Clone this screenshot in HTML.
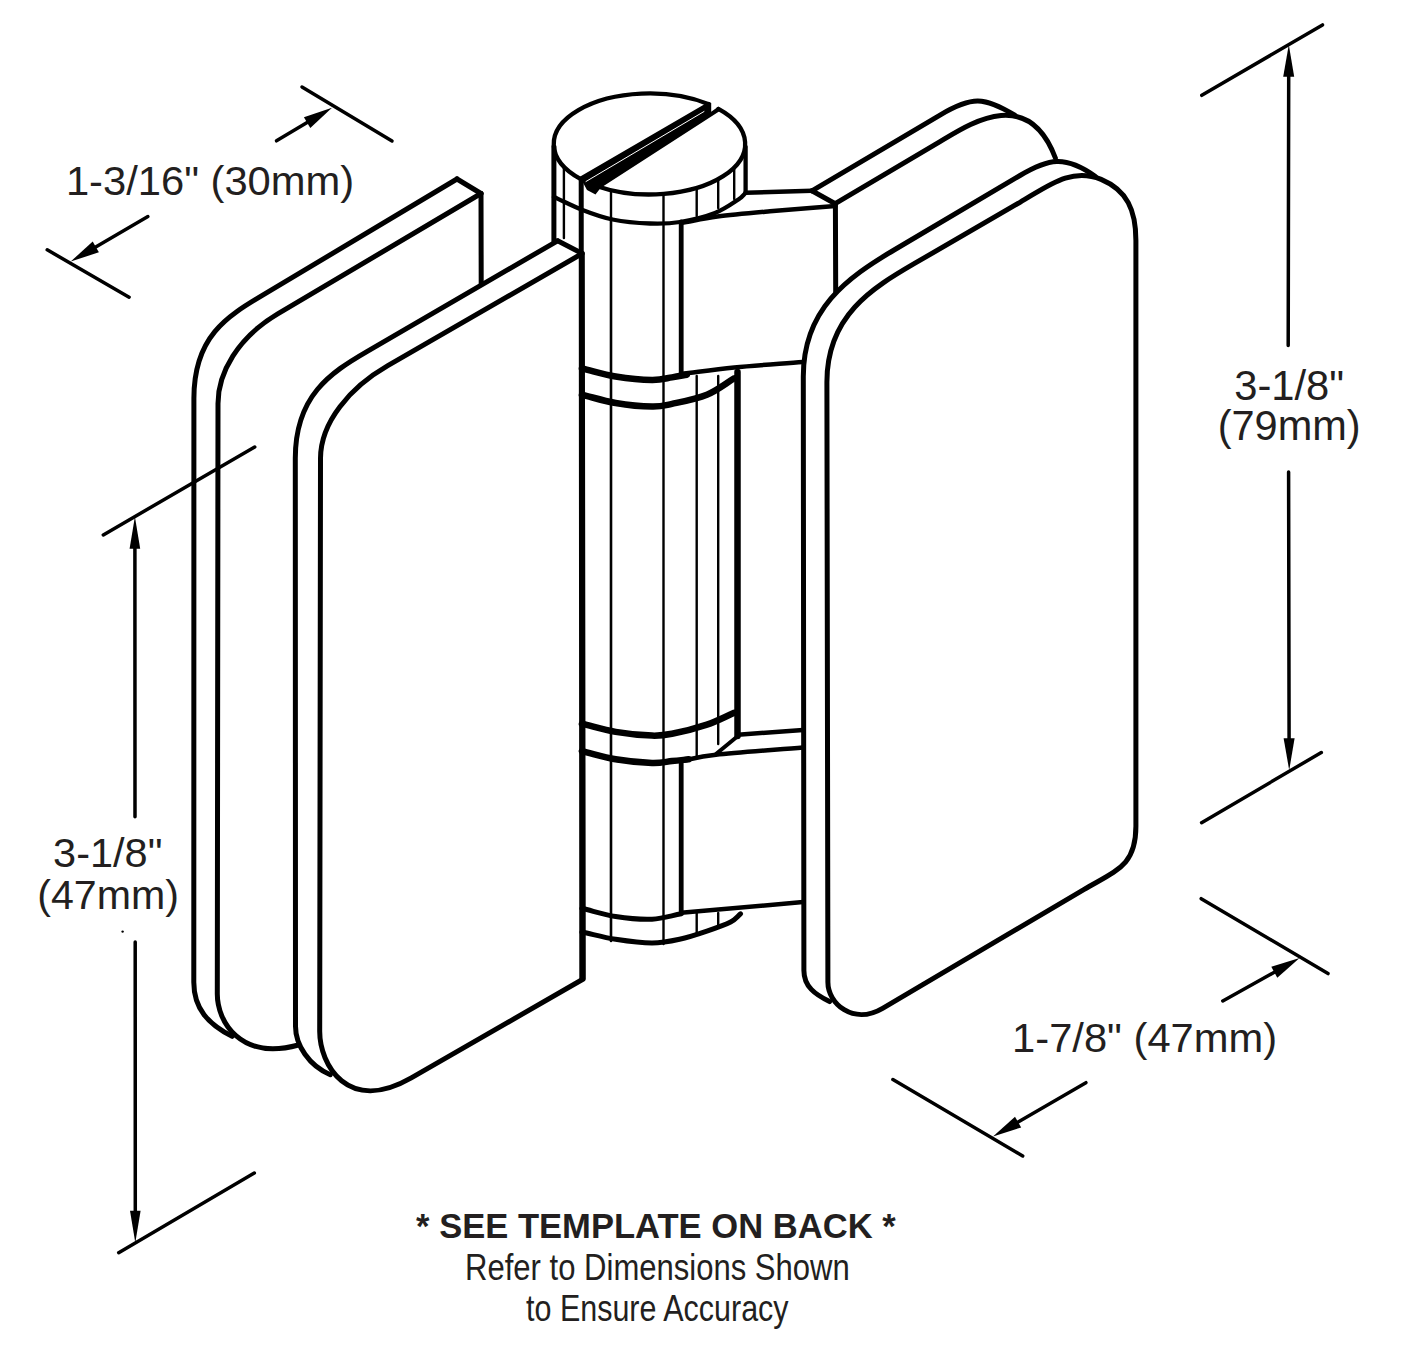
<!DOCTYPE html>
<html><head><meta charset="utf-8"><style>
html,body{margin:0;padding:0;background:#fff;}
svg{display:block;}
text{font-family:"Liberation Sans",sans-serif;fill:#231f20;}
</style></head><body>
<svg width="1425" height="1362" viewBox="0 0 1425 1362" stroke-linecap="round" stroke-linejoin="round">
<path d="M811.9,190.8 L940,115.1 C972.2,96.1 983.6,96.8 1014.8,115.1" fill="none" stroke="#000" stroke-width="5"/>
<path d="M835.2,203.7 L940,141.6 C966.7,125.8 1027.6,83.4 1055.4,158" fill="none" stroke="#000" stroke-width="5"/>
<path d="M835.4,203.7 L835.7,292" stroke="#000" stroke-width="5" fill="none"/>
<path d="M811.9,190.8 L835.3,203.7" stroke="#000" stroke-width="5" fill="none"/>
<path d="M553.9,146.8 L553.9,241" stroke="#000" stroke-width="5" fill="none"/>
<path d="M745.6,146.8 L745.6,192.7" stroke="#000" stroke-width="4.3" fill="none"/>
<path d="M553.9,197 C563.4,201.3 572.7,206.2 582.5,210 C592.3,213.8 601.2,217.2 612.5,219.5 C623.8,221.8 638.8,223.1 650,223.5 C661.2,223.9 669.2,223.8 680,222 C690.8,220.2 705.3,216.8 715,213 C724.7,209.2 733.3,202.8 738.4,199.5 C743.5,196.2 743.1,195.2 745.5,193" fill="none" stroke="#000" stroke-width="4.3"/>
<path d="M563.9,166.5 L563.9,238" stroke="#000" stroke-width="2.4" fill="none"/>
<path d="M611,190.2 L611,218" stroke="#000" stroke-width="2.4" fill="none"/>
<path d="M663.5,194 L663.5,223" stroke="#000" stroke-width="2.4" fill="none"/>
<path d="M696.7,188 L696.7,216" stroke="#000" stroke-width="2.4" fill="none"/>
<path d="M718.2,179.2 L718.2,208" stroke="#000" stroke-width="2.4" fill="none"/>
<path d="M734.2,167.6 L734.2,199" stroke="#000" stroke-width="2.4" fill="none"/>
<path d="M581.2,179.2 L581.8,979" stroke="#000" stroke-width="5" fill="none"/>
<path d="M580.8,179.1 A95.7,50.5 0 0 1 708.8,104.3" fill="none" stroke="#000" stroke-width="4.3"/>
<path d="M718.4,108.9 A95.7,50.5 0 0 1 597.1,186.2" fill="none" stroke="#000" stroke-width="4.3"/>
<path d="M579.8,176.8 L708.8,101.8 L711.2,103 L711.2,111.8 L718.5,106.6 L719.8,111 L600.5,188 L595.5,194.5 L587,190 Z" fill="#000" stroke="none"/>
<path d="M586,181.5 L704,111.5" stroke="#fff" stroke-width="1" fill="none"/>
<path d="M681.2,222 L681.2,374" stroke="#000" stroke-width="4.8" fill="none"/>
<path d="M681.2,223 C693.3,220.9 702.6,218.5 717.4,216.6 C732.2,214.7 750.3,213.1 770,211.3 C789.7,209.5 813.6,207.7 835.4,205.9" fill="none" stroke="#000" stroke-width="4.5"/>
<path d="M745.6,192.7 L811.9,190.8" stroke="#000" stroke-width="4.5" fill="none"/>
<path d="M611,218 L611,941" stroke="#000" stroke-width="2.6" fill="none"/>
<path d="M663.5,223 L663.5,944" stroke="#000" stroke-width="2.4" fill="none"/>
<path d="M696.7,376 L696.7,757" stroke="#000" stroke-width="2.4" fill="none"/>
<path d="M696.7,913 L696.7,933" stroke="#000" stroke-width="2.4" fill="none"/>
<path d="M718.2,376 L718.2,744" stroke="#000" stroke-width="2.4" fill="none"/>
<path d="M718.2,913 L718.2,926" stroke="#000" stroke-width="2.4" fill="none"/>
<path d="M737.5,372 L737.5,736" stroke="#000" stroke-width="6.5" fill="none"/>
<path d="M581.9,368.3 C593.1,371 603.9,374.6 615.6,376.5 C627.3,378.4 642.6,379.9 652,380 C661.4,380.1 666.2,378.3 672,377.4 C677.8,376.5 681.9,375.6 686.8,374.7" fill="none" stroke="#000" stroke-width="6.5"/>
<path d="M681.2,374 C698.9,371.8 713.9,369.4 734.2,367.4 C754.5,365.4 780.1,363.8 803,362" fill="none" stroke="#000" stroke-width="4.5"/>
<path d="M581.9,394.7 C593.1,397.5 603.9,401 615.6,403 C627.3,405 642.6,406.5 652,406.6 C661.4,406.8 662.9,405.9 672,403.9 C681.1,401.9 696.5,399 706.9,394.7 C717.3,390.4 725.1,383.8 734.2,378.3" fill="none" stroke="#000" stroke-width="6.5"/>
<path d="M581.9,723.7 C593.1,726.4 603.9,729.9 615.6,731.9 C627.3,733.9 642.6,735.3 652,735.6 C661.4,735.9 662.9,735.6 672,733.8 C681.1,732 696.5,728.1 706.9,724.6 C717.3,721.1 725.1,716.7 734.2,712.8" fill="none" stroke="#000" stroke-width="6.5"/>
<path d="M737.9,734.7 L803,730" stroke="#000" stroke-width="4.5" fill="none"/>
<path d="M581.9,751.1 C593.1,753.8 603.9,757.3 615.6,759.3 C627.3,761.3 642.6,762.7 652,763 C661.4,763.3 665.9,761.7 672,761.1 C678.1,760.5 683.1,759.9 688.6,759.3" fill="none" stroke="#000" stroke-width="6.5"/>
<path d="M681.2,761 C692.8,758.9 695.7,757 716,754.7 C736.3,752.4 774,749.8 803,747.4" fill="none" stroke="#000" stroke-width="4.5"/>
<path d="M716,754 L737.9,736" stroke="#000" stroke-width="4" fill="none"/>
<path d="M681.2,761 L681.2,913" stroke="#000" stroke-width="4.8" fill="none"/>
<path d="M681.2,912.8 L803,902" stroke="#000" stroke-width="4.5" fill="none"/>
<path d="M581.9,908.3 C593.1,911 603.9,914.7 615.6,916.5 C627.3,918.3 641,919.7 652,919.2 C663,918.8 671.5,915.6 681.3,913.8" fill="none" stroke="#000" stroke-width="5"/>
<path d="M581.9,932 C593.1,934.4 603.9,937.5 615.6,939.3 C627.3,941.1 641.4,943 652,943 C662.6,943 670.4,941.3 679.5,939.3 C688.6,937.3 698.4,934 706.9,931.1 C715.4,928.2 725,924.9 730.6,922 C736.2,919.1 737.3,916.5 740.6,913.8" fill="none" stroke="#000" stroke-width="5"/>
<path d="M1095.4,176.5 C1064.8,154.5 1048.1,158.9 1020,175.5 L894.1,250 C847.1,277.8 803.2,309.2 803.3,376.7 L803.9,970.4 C803.9,986.6 815.1,994.4 829.6,1001.6" fill="none" stroke="#000" stroke-width="5"/>
<path d="M915,263.2 L1020,202.3 C1047.9,186.1 1071.3,166.9 1101.1,179.4 C1127,190.3 1135.9,210 1135.9,240.4 L1135.9,826.3 C1135.9,865.7 1117,870.1 1084.2,889.4 L882.6,1008.3 C853,1025.7 827.9,1003.4 827.9,982.2 L826.9,382.2 C826.8,315.6 872.3,288 915,263.2 Z" fill="none" stroke="#000" stroke-width="5"/>
<path d="M457,179 L262.3,295.4 C226.9,316.5 193.9,336.5 193.9,398.3 L193.8,982.2 C193.8,1008.7 208.4,1024.3 232.1,1036.3" fill="none" stroke="#000" stroke-width="5"/>
<path d="M481,193.5 L277.7,313.9 C237.6,337.7 218,372.9 218,403.4 L217.3,994 C217.3,1021.2 239.9,1060.9 298.5,1045" fill="none" stroke="#000" stroke-width="5"/>
<path d="M481,193.5 L481.2,284" stroke="#000" stroke-width="5" fill="none"/>
<path d="M457,179 L481,193.5" stroke="#000" stroke-width="5" fill="none"/>
<path d="M557.6,240.8 L367.3,351.3 C330.1,372.9 295.3,396 295.3,458.3 L295.5,1026.3 C295.5,1045.2 309.2,1065.9 330.3,1074.7" fill="none" stroke="#000" stroke-width="5"/>
<path d="M582.2,253.5 L387.8,365.7 C349.8,387.6 320.6,422.1 320.5,458.3 L319.7,1031.6 C319.7,1064.1 347.5,1114.6 411.3,1077.9 L583.3,979 L582.3,253.5 Z" fill="none" stroke="#000" stroke-width="5"/>
<path d="M557.6,240.8 L582.2,253.5" stroke="#000" stroke-width="5" fill="none"/>
<path d="M302,87 L392,141" stroke="#000" stroke-width="3.5" fill="none"/>
<path d="M276.5,140.8 L308.8,121.5" stroke="#000" stroke-width="3.5" fill="none"/>
<path d="M332,107.7 L310.3,127.9 L303.9,117.2 Z" fill="#000"/>
<path d="M47.2,249.8 L129.1,297.2" stroke="#000" stroke-width="3.5" fill="none"/>
<path d="M147.9,216.6 L94,247.9" stroke="#000" stroke-width="3.5" fill="none"/>
<path d="M70.7,261.5 L92.7,241.6 L98.9,252.3 Z" fill="#000"/>
<path d="M1201.8,95.3 L1322.5,24.9" stroke="#000" stroke-width="3.5" fill="none"/>
<path d="M1288.2,345.4 L1288.7,74.7" stroke="#000" stroke-width="3.5" fill="none"/>
<path d="M1288.8,44.7 L1294.2,76.7 L1283.2,76.7 Z" fill="#000"/>
<path d="M1288.6,472 L1289.1,740.2" stroke="#000" stroke-width="3.5" fill="none"/>
<path d="M1289.2,770.2 L1283.6,738.2 L1294.6,738.2 Z" fill="#000"/>
<path d="M1201.6,822.7 L1321.3,752.5" stroke="#000" stroke-width="3.5" fill="none"/>
<path d="M103.3,534.9 L254.7,447" stroke="#000" stroke-width="3.5" fill="none"/>
<path d="M135,816.7 L134.9,546.8" stroke="#000" stroke-width="3.5" fill="none"/>
<path d="M134.9,516.8 L140.2,548.8 L129.6,548.8 Z" fill="#000"/>
<path d="M135.2,942 L135.3,1212.7" stroke="#000" stroke-width="3.5" fill="none"/>
<path d="M135.3,1242.7 L130,1210.7 L140.6,1210.7 Z" fill="#000"/>
<path d="M118.7,1252.7 L254.3,1173" stroke="#000" stroke-width="3.5" fill="none"/>
<circle cx="122.6" cy="931.6" r="1.2" fill="#000"/>
<path d="M1201.2,898.7 L1328,973.6" stroke="#000" stroke-width="3.5" fill="none"/>
<path d="M1222.8,1001 L1276,971.3" stroke="#000" stroke-width="3.5" fill="none"/>
<path d="M1299.6,958.1 L1277.3,977.7 L1271.3,966.8 Z" fill="#000"/>
<path d="M892.9,1079.5 L1022.7,1156" stroke="#000" stroke-width="3.5" fill="none"/>
<path d="M1085.9,1082.7 L1016.4,1123.1" stroke="#000" stroke-width="3.5" fill="none"/>
<path d="M993,1136.6 L1015,1116.7 L1021.2,1127.4 Z" fill="#000"/>
<text x="65.9" y="195" font-size="41" font-weight="normal" textLength="288.3" lengthAdjust="spacingAndGlyphs">1-3/16&quot; (30mm)</text>
<text x="1234.2" y="399.5" font-size="42" font-weight="normal" textLength="109.9" lengthAdjust="spacingAndGlyphs">3-1/8&quot;</text>
<text x="1217.7" y="440.4" font-size="42" font-weight="normal" textLength="143" lengthAdjust="spacingAndGlyphs">(79mm)</text>
<text x="53.1" y="867.2" font-size="41.5" font-weight="normal" textLength="109.3" lengthAdjust="spacingAndGlyphs">3-1/8&quot;</text>
<text x="37.3" y="908.8" font-size="41.5" font-weight="normal" textLength="141.7" lengthAdjust="spacingAndGlyphs">(47mm)</text>
<text x="1012.1" y="1052" font-size="40" font-weight="normal" textLength="265" lengthAdjust="spacingAndGlyphs">1-7/8&quot; (47mm)</text>
<text x="416.1" y="1238" font-size="34.5" font-weight="bold" textLength="479.6" lengthAdjust="spacingAndGlyphs">* SEE TEMPLATE ON BACK *</text>
<text x="465" y="1279.5" font-size="36.5" font-weight="normal" textLength="384.8" lengthAdjust="spacingAndGlyphs">Refer to Dimensions Shown</text>
<text x="526" y="1320.9" font-size="36.5" font-weight="normal" textLength="262.6" lengthAdjust="spacingAndGlyphs">to Ensure Accuracy</text>
</svg>
</body></html>
